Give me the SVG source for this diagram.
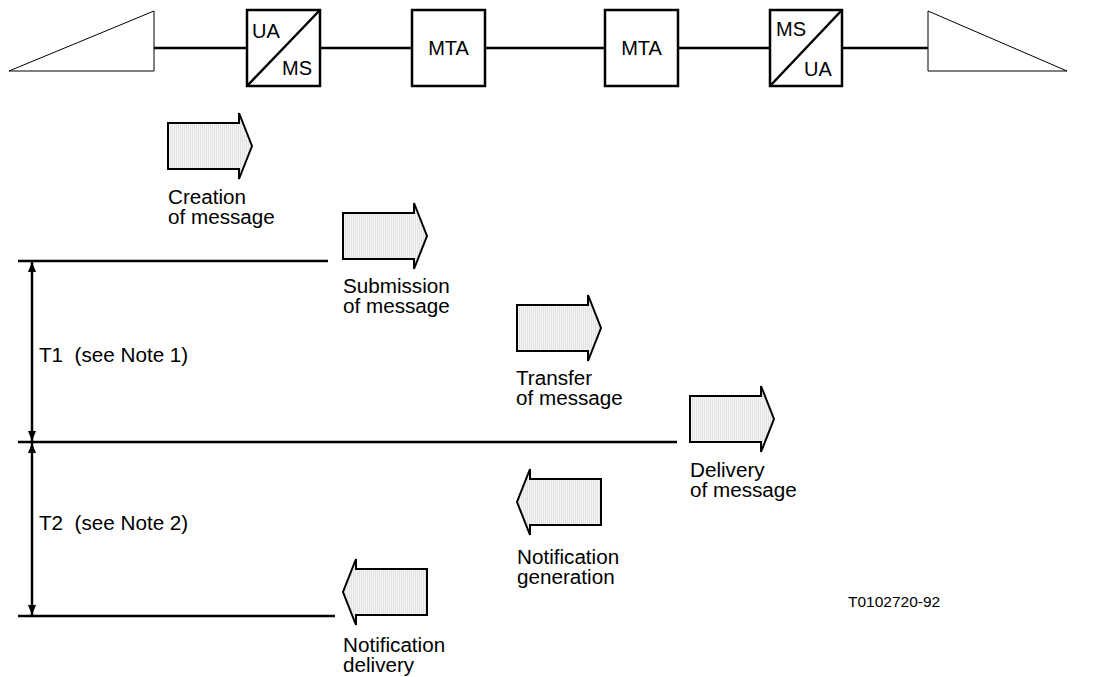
<svg xmlns="http://www.w3.org/2000/svg" width="1095" height="677" viewBox="0 0 1095 677">
<style>
text{font-family:"Liberation Sans",Arial,sans-serif;fill:#000}
.lbl{font-size:19.5px}
.bx{font-size:20px}
.box{fill:#fff;stroke:#000;stroke-width:2.5}
.wire{stroke:#000;stroke-width:2.5;fill:none}
.tri{fill:#fff;stroke:#000;stroke-width:1}
.blk{fill:url(#hatch);stroke:#000;stroke-width:2;stroke-linejoin:miter}
.hl{stroke:#000;stroke-width:2.5}
</style>
<defs>
<pattern id="hatch" width="2" height="4" patternUnits="userSpaceOnUse">
<rect width="2" height="4" fill="#f5f5f5"/>
<rect width="1" height="4" fill="#e2e2e2"/>
</pattern>
<path id="ra" d="M0,0 H71 V-10 L84,23 L71,56 V46 H0 Z"/>
<path id="la" d="M84,0 H13 V-10 L0,23 L13,56 V46 H84 Z"/>
<marker id="ah" viewBox="0 0 10 8" refX="10" refY="4" markerWidth="10" markerHeight="8" markerUnits="userSpaceOnUse" orient="auto-start-reverse">
<path d="M0,0 L10,4 L0,8 Z" fill="#000"/>
</marker>
</defs>

<g id="connectors">
<line class="wire" x1="154" y1="48" x2="247" y2="48"/>
<line class="wire" x1="320" y1="48" x2="412" y2="48"/>
<line class="wire" x1="485" y1="48" x2="605" y2="48"/>
<line class="wire" x1="678" y1="48" x2="770" y2="48"/>
<line class="wire" x1="842" y1="48" x2="928" y2="48"/>
</g>

<g id="term-left"><polygon class="tri" points="9,71 154,11 154,71"/></g>
<g id="ua-ms">
<rect class="box" x="247" y="10" width="73" height="76"/>
<line class="wire" x1="247" y1="86" x2="320" y2="10"/>
<text class="bx" x="252" y="38">UA</text>
<text class="bx" x="282" y="75">MS</text>
</g>
<g id="mta1">
<rect class="box" x="412" y="10" width="73" height="76"/>
<text class="bx" x="448.5" y="55" text-anchor="middle">MTA</text>
</g>
<g id="mta2">
<rect class="box" x="605" y="10" width="73" height="76"/>
<text class="bx" x="641.5" y="55" text-anchor="middle">MTA</text>
</g>
<g id="ms-ua">
<rect class="box" x="770" y="10" width="72" height="76"/>
<line class="wire" x1="770" y1="86" x2="842" y2="10"/>
<text class="bx" x="776" y="36">MS</text>
<text class="bx" x="804" y="76">UA</text>
</g>
<g id="term-right"><polygon class="tri" points="928,11 928,71 1067,71"/></g>

<g id="creation">
<use href="#ra" class="blk" x="168" y="123"/>
<text class="lbl" transform="translate(168,0) scale(1.06,1)"><tspan x="0" y="204">Creation</tspan><tspan x="0" y="224">of message</tspan></text>
</g>
<g id="submission">
<use href="#ra" class="blk" x="343" y="213"/>
<text class="lbl" transform="translate(343,0) scale(1.06,1)"><tspan x="0" y="293">Submission</tspan><tspan x="0" y="313">of message</tspan></text>
</g>
<g id="transfer">
<use href="#ra" class="blk" x="517" y="305"/>
<text class="lbl" transform="translate(516,0) scale(1.06,1)"><tspan x="0" y="385">Transfer</tspan><tspan x="0" y="405">of message</tspan></text>
</g>
<g id="delivery">
<use href="#ra" class="blk" x="690" y="396"/>
<text class="lbl" transform="translate(690,0) scale(1.06,1)"><tspan x="0" y="477">Delivery</tspan><tspan x="0" y="497">of message</tspan></text>
</g>
<g id="notif-gen">
<use href="#la" class="blk" x="517" y="479"/>
<text class="lbl" transform="translate(517,0) scale(1.06,1)"><tspan x="0" y="564">Notification</tspan><tspan x="0" y="584">generation</tspan></text>
</g>
<g id="notif-del">
<use href="#la" class="blk" x="343" y="569"/>
<text class="lbl" transform="translate(343,0) scale(1.06,1)"><tspan x="0" y="652">Notification</tspan><tspan x="0" y="672">delivery</tspan></text>
</g>

<g id="timeline">
<line class="hl" x1="18" y1="261" x2="328" y2="261"/>
<line class="hl" x1="18" y1="442" x2="677" y2="442"/>
<line class="hl" x1="18" y1="616" x2="335" y2="616"/>
<line class="hl" x1="32" y1="262" x2="32" y2="441" marker-start="url(#ah)" marker-end="url(#ah)"/>
<line class="hl" x1="32" y1="443" x2="32" y2="615" marker-start="url(#ah)" marker-end="url(#ah)"/>
<text class="lbl" transform="translate(39,362) scale(1.06,1)" xml:space="preserve">T1  (see Note 1)</text>
<text class="lbl" transform="translate(39,530) scale(1.06,1)" xml:space="preserve">T2  (see Note 2)</text>
</g>
<text x="848" y="607" font-size="15.5">T0102720-92</text>
</svg>
